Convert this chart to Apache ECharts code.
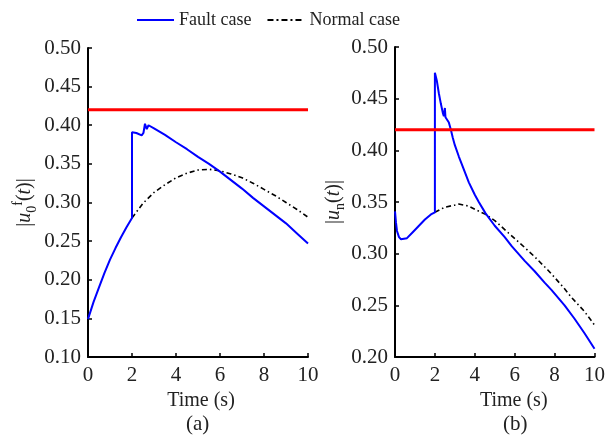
<!DOCTYPE html>
<html>
<head>
<meta charset="utf-8">
<script src="https://cdn.jsdelivr.net/npm/echarts@6/dist/echarts.min.js"></script>
<style>html,body{margin:0;padding:0;background:#fff}#c{width:608px;height:439px}</style>
</head>
<body>
<div id="c"></div>
<script>
// ---- Panel (a) ----
const tFaultA = [0, 0.25, 0.5, 0.75, 1, 1.25, 1.5, 1.75, 2, 2, 2.2, 2.44, 2.52, 2.59, 2.67, 2.75, 3, 3.5, 4, 4.5, 5, 5.5, 6, 6.5, 7, 7.5, 8, 8.5, 9, 9.5, 10];
const uFaultA = [0.149, 0.171, 0.190, 0.209, 0.226, 0.241, 0.255, 0.268, 0.280, 0.391, 0.390, 0.387, 0.390, 0.402, 0.395, 0.400, 0.396, 0.3875, 0.378, 0.369, 0.359, 0.350, 0.340, 0.329, 0.318, 0.306, 0.295, 0.284, 0.273, 0.260, 0.247];
const tNormalA = [2, 2.5, 3, 3.5, 4, 4.5, 5, 5.5, 6, 6.5, 7, 7.5, 8, 8.5, 9, 9.5, 10];
const uNormalA = [0.280, 0.299, 0.313, 0.323, 0.332, 0.338, 0.342, 0.343, 0.341, 0.337, 0.332, 0.325, 0.317, 0.309, 0.300, 0.291, 0.281];
// ---- Panel (b) ----
const tFaultB = [0, 0.05, 0.1, 0.2, 0.3, 0.4, 0.6, 0.9, 1.2, 1.5, 1.8, 2, 2, 2.1, 2.2, 2.3, 2.4, 2.45, 2.5, 2.53, 2.6, 2.7, 2.8, 2.9, 3.0, 3.2, 3.4, 3.7, 4.0, 4.2, 4.54, 5, 5.5, 5.86, 6.5, 7, 7.5, 7.84, 8.5, 9, 9.5, 10];
const uFaultB = [0.341, 0.330, 0.322, 0.316, 0.314, 0.313, 0.315, 0.321, 0.327, 0.333, 0.338, 0.340, 0.475, 0.467, 0.455, 0.445, 0.436, 0.433, 0.441, 0.432, 0.431, 0.427, 0.420, 0.412, 0.405, 0.394, 0.384, 0.369, 0.357, 0.350, 0.339, 0.327, 0.316, 0.307, 0.293, 0.283, 0.272, 0.265, 0.250, 0.237, 0.223, 0.208];
const tNormalB = [2, 2.5, 3, 3.2, 3.7, 4, 4.54, 5, 5.69, 6.5, 7, 7.67, 8, 8.5, 8.83, 9.5, 10];
const uNormalB = [0.340, 0.345, 0.347, 0.348, 0.346, 0.343, 0.338, 0.332, 0.320, 0.306, 0.297, 0.284, 0.277, 0.266, 0.258, 0.244, 0.231];
// ---- Threshold ----
const thresholdT = [0, 10];
const thresholdU = [0.42, 0.42];
// ---- Axes ----
const xRange = [0, 10, 2];
const yRangeA = [0.10, 0.50, 0.05];
const yRangeB = [0.20, 0.50, 0.05];

const zip = (a, b) => a.map((v, i) => [v, b[i]]);
const FONT = 'Liberation Serif';
const TXT = '#222';

const chart = echarts.init(document.getElementById('c'), null, {renderer: 'canvas'});

function xAxis(gi, name, pad) {
  return {
    type: 'value', gridIndex: gi, min: xRange[0], max: xRange[1], interval: xRange[2],
    axisLine: {show: true, lineStyle: {color: '#000', width: 2}},
    axisTick: {show: true, inside: true, length: 4, lineStyle: {color: '#000', width: 1.5}},
    axisLabel: {fontFamily: FONT, fontSize: 21, color: TXT, margin: 8},
    splitLine: {show: false},
    name: name, nameLocation: 'middle', nameGap: 31,
    nameTextStyle: {fontFamily: FONT, fontSize: 20, color: TXT, padding: pad}
  };
}
const rich = {
  n: {fontFamily: FONT, fontSize: 20, color: TXT, lineHeight: 28},
  i: {fontFamily: FONT, fontSize: 20, color: TXT, fontStyle: 'italic', lineHeight: 28},
  s: {fontFamily: FONT, fontSize: 14, color: TXT, verticalAlign: 'bottom', lineHeight: 13},
  p: {fontFamily: FONT, fontSize: 14, color: TXT, verticalAlign: 'top', lineHeight: 13}
};
function yAxis(gi, range, name, gap) {
  return {
    type: 'value', gridIndex: gi, min: range[0], max: range[1], interval: range[2],
    axisLine: {show: true, lineStyle: {color: '#000', width: 2}},
    axisTick: {show: true, inside: true, length: 4, lineStyle: {color: '#000', width: 1.5}},
    axisLabel: {fontFamily: FONT, fontSize: 21, color: TXT, margin: 7, formatter: v => v.toFixed(2)},
    splitLine: {show: false},
    name: name, nameLocation: 'middle', nameRotate: 90, nameGap: gap,
    nameTextStyle: {fontFamily: FONT, fontSize: 20, color: TXT, rich: rich}
  };
}
function lineSeries(name, gi, data, color, width, type, z) {
  return {
    name: name, type: 'line', xAxisIndex: gi, yAxisIndex: gi, data: data,
    symbol: 'none', showSymbol: false, animation: false, z: z,
    lineStyle: {color: color, width: width, type: type},
    itemStyle: {color: color}
  };
}
const dashDot = [5, 3, 1.5, 3];
const solidIcon = 'path://M0,0H37V2H0Z';
const dashDotIcon = 'path://M0,0H6V2H0Z M9,0H11V2H9Z M14,0H20V2H14Z M23,0H25V2H23Z M28,0H34V2H28Z M37,0H37.01V2H37Z';

chart.setOption({
  backgroundColor: '#fff',
  animation: false,
  legend: {
    data: [{name: 'Fault case', icon: solidIcon}, {name: 'Normal case', icon: dashDotIcon}],
    left: 132, top: 6,
    itemWidth: 37, itemHeight: 2, itemGap: 16,
    textStyle: {fontFamily: FONT, fontSize: 18, color: TXT}
  },
  grid: [
    {left: 88, top: 48, width: 220, height: 309},
    {left: 395, top: 47, width: 202, height: 310}
  ],
  xAxis: [xAxis(0, 'Time (s)', [0, 0, 0, 6]), xAxis(1, 'Time (s)', [0, 0, 0, 38])],
  yAxis: [
    yAxis(0, yRangeA, '{n||}{i|u}{s|0}{p|f}{n|(}{i|t}{n|)|}', 49),
    yAxis(1, yRangeB, '{n||}{i|u}{s|n}{n|(}{i|t}{n|)|}', 46)
  ],
  series: [
    lineSeries('Normal case', 0, zip(tNormalA, uNormalA), '#000', 1.6, dashDot, 2),
    lineSeries('Fault case', 0, zip(tFaultA, uFaultA), '#0000ff', 2, 'solid', 3),
    lineSeries('', 0, zip(thresholdT, thresholdU), '#ff0000', 3, 'solid', 4),
    lineSeries('Normal case', 1, zip(tNormalB, uNormalB), '#000', 1.6, dashDot, 2),
    lineSeries('Fault case', 1, zip(tFaultB, uFaultB), '#0000ff', 2, 'solid', 3),
    lineSeries('', 1, zip(thresholdT, thresholdU), '#ff0000', 3, 'solid', 4)
  ],
  graphic: [
    {type: 'text', left: 186, top: 414, style: {text: '(a)', font: '21px "Liberation Serif"', fill: TXT}},
    {type: 'text', left: 503, top: 414, style: {text: '(b)', font: '21px "Liberation Serif"', fill: TXT}}
  ]
});
</script>
</body>
</html>
